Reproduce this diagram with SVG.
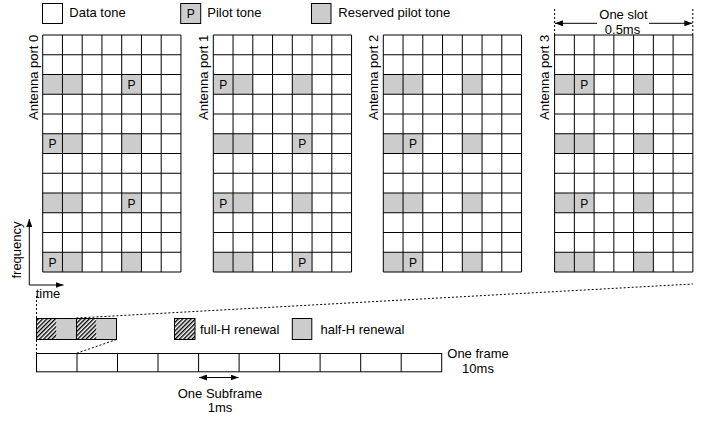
<svg xmlns="http://www.w3.org/2000/svg" xmlns:xlink="http://www.w3.org/1999/xlink" width="713" height="424" viewBox="0 0 713 424">
<style>
text{font-family:"Liberation Sans",Arial,sans-serif;font-size:13px;fill:#000}
.p{font-size:12px;text-anchor:middle}
.r{fill:#cccccc;stroke:none}
.gl{fill:none;stroke:#000;stroke-width:1}
.box{stroke:#000;stroke-width:1}
.dot{fill:none;stroke:#000;stroke-width:1;stroke-dasharray:2,2}
.ar{fill:none;stroke:#000;stroke-width:1}
.mid{text-anchor:middle}
</style>
<defs>
<pattern id="hatch" patternUnits="userSpaceOnUse" width="3" height="10" patternTransform="rotate(45)">
<rect width="3" height="10" fill="#fff"/>
<rect width="1.4" height="10" fill="#000"/>
</pattern>
<marker id="ah" viewBox="0 0 8 6" refX="8" refY="3" markerWidth="8" markerHeight="6" markerUnits="userSpaceOnUse" orient="auto-start-reverse">
<path d="M0,0 L8,3 L0,6 z" fill="#000"/>
</marker>
<path id="gridlines" class="gl" d="M0,0V237M19.75,0V237M39.5,0V237M59.25,0V237M79,0V237M98.75,0V237M118.5,0V237M138.25,0V237M0,0H138.25M0,19.75H138.25M0,39.5H138.25M0,59.25H138.25M0,79H138.25M0,98.75H138.25M0,118.5H138.25M0,138.25H138.25M0,158H138.25M0,177.75H138.25M0,197.5H138.25M0,217.25H138.25M0,237H138.25"/>
</defs>
<rect width="713" height="424" fill="#fff"/>

<g id="legend-top">
<rect class="box" x="42.5" y="3.5" width="20" height="20" fill="#fff"/>
<text x="69.3" y="16.8">Data tone</text>
<rect class="box" x="180.7" y="3.5" width="20" height="20" fill="#cccccc"/>
<text class="p" x="190.7" y="18">P</text>
<text x="207.3" y="16.8">Pilot tone</text>
<rect class="box" x="311.5" y="3.5" width="19.5" height="20" fill="#cccccc"/>
<text x="338.3" y="16.8">Reserved pilot tone</text>
</g>

<g id="port0" transform="translate(42.7,35)">
<rect class="r" x="0" y="39.5" width="39.5" height="19.75"/>
<rect class="r" x="79" y="39.5" width="19.75" height="19.75"/>
<rect class="r" x="0" y="98.75" width="39.5" height="19.75"/>
<rect class="r" x="79" y="98.75" width="19.75" height="19.75"/>
<rect class="r" x="0" y="158" width="39.5" height="19.75"/>
<rect class="r" x="79" y="158" width="19.75" height="19.75"/>
<rect class="r" x="0" y="217.25" width="39.5" height="19.75"/>
<rect class="r" x="79" y="217.25" width="19.75" height="19.75"/>
<use xlink:href="#gridlines"/>
<text class="p" x="88.9" y="54">P</text>
<text class="p" x="9.9" y="113.3">P</text>
<text class="p" x="88.9" y="172.5">P</text>
<text class="p" x="9.9" y="231.8">P</text>
<text transform="translate(-5.2,85) rotate(-90)">Antenna port 0</text>
</g>

<g id="port1" transform="translate(213.3,35)">
<rect class="r" x="0" y="39.5" width="39.5" height="19.75"/>
<rect class="r" x="79" y="39.5" width="19.75" height="19.75"/>
<rect class="r" x="0" y="98.75" width="39.5" height="19.75"/>
<rect class="r" x="79" y="98.75" width="19.75" height="19.75"/>
<rect class="r" x="0" y="158" width="39.5" height="19.75"/>
<rect class="r" x="79" y="158" width="19.75" height="19.75"/>
<rect class="r" x="0" y="217.25" width="39.5" height="19.75"/>
<rect class="r" x="79" y="217.25" width="19.75" height="19.75"/>
<use xlink:href="#gridlines"/>
<text class="p" x="9.9" y="54">P</text>
<text class="p" x="88.9" y="113.3">P</text>
<text class="p" x="9.9" y="172.5">P</text>
<text class="p" x="88.9" y="231.8">P</text>
<text transform="translate(-5.2,85) rotate(-90)">Antenna port 1</text>
</g>

<g id="port2" transform="translate(383.3,35)">
<rect class="r" x="0" y="39.5" width="39.5" height="19.75"/>
<rect class="r" x="79" y="39.5" width="19.75" height="19.75"/>
<rect class="r" x="0" y="98.75" width="39.5" height="19.75"/>
<rect class="r" x="79" y="98.75" width="19.75" height="19.75"/>
<rect class="r" x="0" y="158" width="39.5" height="19.75"/>
<rect class="r" x="79" y="158" width="19.75" height="19.75"/>
<rect class="r" x="0" y="217.25" width="39.5" height="19.75"/>
<rect class="r" x="79" y="217.25" width="19.75" height="19.75"/>
<use xlink:href="#gridlines"/>
<text class="p" x="29.6" y="113.3">P</text>
<text class="p" x="29.6" y="231.8">P</text>
<text transform="translate(-5.2,85) rotate(-90)">Antenna port 2</text>
</g>

<g id="port3" transform="translate(554.6,35)">
<rect class="r" x="0" y="39.5" width="39.5" height="19.75"/>
<rect class="r" x="79" y="39.5" width="19.75" height="19.75"/>
<rect class="r" x="0" y="98.75" width="39.5" height="19.75"/>
<rect class="r" x="79" y="98.75" width="19.75" height="19.75"/>
<rect class="r" x="0" y="158" width="39.5" height="19.75"/>
<rect class="r" x="79" y="158" width="19.75" height="19.75"/>
<rect class="r" x="0" y="217.25" width="39.5" height="19.75"/>
<rect class="r" x="79" y="217.25" width="19.75" height="19.75"/>
<use xlink:href="#gridlines"/>
<text class="p" x="29.6" y="54">P</text>
<text class="p" x="29.6" y="172.5">P</text>
<text transform="translate(-5.2,85) rotate(-90)">Antenna port 3</text>
</g>

<g id="slot-label">
<line class="dot" x1="554.6" y1="9" x2="554.6" y2="35"/>
<line class="dot" x1="692.8" y1="9" x2="692.8" y2="35"/>
<line class="ar" x1="555" y1="23.3" x2="692.4" y2="23.3" marker-start="url(#ah)" marker-end="url(#ah)"/>
<rect x="597" y="8" width="52" height="17" fill="#fff"/>
<text class="mid" x="623.5" y="18.6">One slot</text>
<text class="mid" x="622.5" y="33.5">0.5ms</text>
</g>

<g id="axes">
<line class="ar" x1="29.3" y1="285" x2="29.3" y2="219" marker-end="url(#ah)"/>
<line class="ar" x1="29.3" y1="285" x2="63.5" y2="285" marker-end="url(#ah)"/>
<text class="mid" transform="translate(20.5,250) rotate(-90)">frequency</text>
<text x="35.7" y="298.3">time</text>
</g>

<g id="connectors">
<line class="dot" x1="36.5" y1="296" x2="36.5" y2="353"/>
<line class="dot" x1="76.5" y1="318" x2="692.8" y2="284"/>
<line class="dot" x1="116.5" y1="339.5" x2="76.5" y2="353.3"/>
</g>

<g id="subframe-zoom">
<rect x="36.5" y="318.5" width="20" height="21" fill="url(#hatch)"/>
<rect x="56.5" y="318.5" width="20" height="21" fill="#cccccc"/>
<rect x="76.5" y="318.5" width="20" height="21" fill="url(#hatch)"/>
<rect x="96.5" y="318.5" width="20" height="21" fill="#cccccc"/>
<rect class="box" x="36.5" y="318.5" width="80" height="21" fill="none"/>
<line class="gl" x1="76.5" y1="318.5" x2="76.5" y2="339.5"/>
</g>

<g id="legend-bottom">
<rect class="box" x="174.5" y="318.5" width="20.5" height="21" fill="url(#hatch)"/>
<text x="200" y="333.5">full-H renewal</text>
<rect class="box" x="292.3" y="318.5" width="19.5" height="21" fill="#cccccc"/>
<text x="320.5" y="333.5">half-H renewal</text>
</g>

<g id="frame">
<rect class="box" x="36.5" y="353.5" width="405.2" height="18.3" fill="#fff"/>
<path class="gl" d="M77,353.5V371.8M117.5,353.5V371.8M158,353.5V371.8M198.6,353.5V371.8M239.1,353.5V371.8M279.6,353.5V371.8M320.1,353.5V371.8M360.7,353.5V371.8M401.2,353.5V371.8"/>
<text class="mid" x="478" y="358">One frame</text>
<text class="mid" x="478" y="372.6">10ms</text>
</g>

<g id="subframe-label">
<line class="ar" x1="199" y1="377.5" x2="238.5" y2="377.5" marker-start="url(#ah)" marker-end="url(#ah)"/>
<text class="mid" x="220" y="398">One Subframe</text>
<text class="mid" x="220" y="412.3">1ms</text>
</g>
</svg>
